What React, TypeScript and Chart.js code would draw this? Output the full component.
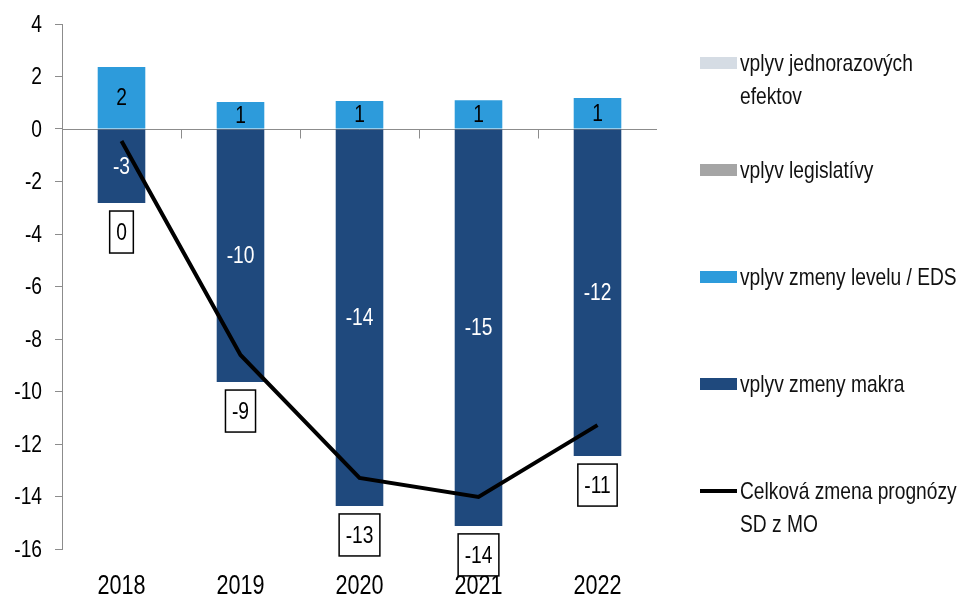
import React, { useEffect, useRef } from "react";
import { Chart, registerables } from "chart.js";

Chart.register(...registerables);

// ---- data ----
const categories = ["2018", "2019", "2020", "2021", "2022"];
const oneOffEffects = [0, 0, 0, 0, 0];
const legislation = [0, 0, 0, 0, 0];
const levelChange = [2.36, 1.03, 1.07, 1.1, 1.18];
const macroChange = [-2.82, -9.64, -14.36, -15.12, -12.46];
const totalChange = [-0.46, -8.61, -13.29, -14.02, -11.28];
const yMin = -16;
const yMax = 4;
const yStep = 2;

const seriesNames = [
  "vplyv jednorazových efektov",
  "vplyv legislatívy",
  "vplyv zmeny levelu / EDS",
  "vplyv zmeny makra",
  "Celková zmena prognózy SD z MO",
];
const legendLines = [
  ["vplyv jednorazových", "efektov"],
  ["vplyv legislatívy"],
  ["vplyv zmeny levelu / EDS"],
  ["vplyv zmeny makra"],
  ["Celková zmena prognózy", "SD z MO"],
];

// ---- styles ----
const FONT = "'Liberation Sans', Arial, sans-serif";
const SQUEEZE = 0.8; // emulate a condensed typeface
const C_ONEOFF = "#D5DCE4";
const C_LEGIS = "#A5A5A5";
const C_LEVEL = "#2D9BDB";
const C_MACRO = "#1F497D";
const C_LINE = "#000000";
const C_AXIS = "#8c8c8c";
const legendColors = [C_ONEOFF, C_LEGIS, C_LEVEL, C_MACRO, C_LINE];

const fmt = (v: number) => {
  const r = Math.round(v);
  return String(r === 0 ? 0 : r);
};

function text(ctx: any, t: string, x: number, y: number, size: number, color: string, align: string) {
  ctx.save();
  ctx.font = `${size}px ${FONT}`;
  ctx.textAlign = align;
  ctx.textBaseline = "middle";
  ctx.fillStyle = color;
  ctx.translate(x, y);
  ctx.scale(SQUEEZE, 1);
  ctx.fillText(t, 0, 0);
  ctx.restore();
}

function textWidth(ctx: any, t: string, size: number) {
  ctx.save();
  ctx.font = `${size}px ${FONT}`;
  const w = ctx.measureText(t).width * SQUEEZE;
  ctx.restore();
  return w;
}

const decorPlugin = {
  id: "decor",
  beforeDatasetsDraw(chart: any) {
    const { ctx, chartArea, scales } = chart;
    const x = scales.x;
    const y = scales.y;
    const y0 = Math.round(y.getPixelForValue(0)) + 0.5;
    ctx.save();
    ctx.strokeStyle = C_AXIS;
    ctx.lineWidth = 1;
    ctx.beginPath();
    ctx.moveTo(chartArea.left, y0);
    ctx.lineTo(chartArea.right, y0);
    for (let i = 1; i < categories.length; i++) {
      const px = Math.round((x.getPixelForValue(i - 1) + x.getPixelForValue(i)) / 2) + 0.5;
      ctx.moveTo(px, y0);
      ctx.lineTo(px, y0 + 9);
    }
    ctx.stroke();
    ctx.restore();
  },
  afterDatasetsDraw(chart: any) {
    const { ctx, chartArea, scales } = chart;
    // axis labels
    scales.y.ticks.forEach((tk: any) => {
      text(ctx, String(tk.value), chartArea.left - 20, scales.y.getPixelForValue(tk.value) + 1, 24, "#000", "right");
    });
    categories.forEach((c, i) => {
      text(ctx, c, scales.x.getPixelForValue(i), chartArea.bottom + 38, 27, "#000", "center");
    });
    // bar labels
    const levelMeta = chart.getDatasetMeta(2);
    const macroMeta = chart.getDatasetMeta(3);
    levelMeta.data.forEach((bar: any, i: number) => {
      const p = bar.getProps(["x", "y", "base"], true);
      text(ctx, fmt(levelChange[i]), p.x, (p.y + p.base) / 2 + 1, 24, "#000", "center");
    });
    macroMeta.data.forEach((bar: any, i: number) => {
      const p = bar.getProps(["x", "y", "base"], true);
      text(ctx, fmt(macroChange[i]), p.x, (p.y + p.base) / 2 + 1, 24, "#fff", "center");
    });
    // boxed totals
    totalChange.forEach((v, i) => {
      const p = macroMeta.data[i].getProps(["x", "y"], true);
      const cy = p.y + 29;
      const t = fmt(v);
      const w = textWidth(ctx, t, 24) + 13;
      const h = 42;
      ctx.save();
      ctx.fillStyle = "#fff";
      ctx.fillRect(p.x - w / 2, cy - h / 2, w, h);
      ctx.strokeStyle = "#000";
      ctx.lineWidth = 1.5;
      ctx.strokeRect(p.x - w / 2, cy - h / 2, w, h);
      ctx.restore();
      text(ctx, t, p.x, cy + 1, 24, "#000", "center");
    });
  },
  afterDraw(chart: any) {
    const { ctx, chartArea } = chart;
    const x0 = chartArea.right + 43;
    const first = chartArea.top + 39;
    const gap = 107;
    legendLines.forEach((lines, i) => {
      const cy = first + i * gap;
      ctx.save();
      ctx.fillStyle = legendColors[i];
      if (i === 4) ctx.fillRect(x0, cy - 2, 37, 4);
      else ctx.fillRect(x0, cy - 6, 37, 12);
      ctx.restore();
      lines.forEach((ln, j) => text(ctx, ln, x0 + 40, cy + 1 + j * 33, 24, "#111", "left"));
    });
  },
};

export default function App() {
  const ref = useRef<HTMLCanvasElement | null>(null);
  useEffect(() => {
    if (!ref.current) return;
    const barCommon = { stack: "bars", barPercentage: 0.4, categoryPercentage: 1, borderWidth: 0 };
    const chart = new Chart(ref.current, {
      type: "bar",
      data: {
        labels: categories,
        datasets: [
          { ...barCommon, label: seriesNames[0], data: oneOffEffects, backgroundColor: C_ONEOFF, order: 2 },
          { ...barCommon, label: seriesNames[1], data: legislation, backgroundColor: C_LEGIS, order: 2 },
          { ...barCommon, label: seriesNames[2], data: levelChange, backgroundColor: C_LEVEL, order: 2 },
          { ...barCommon, label: seriesNames[3], data: macroChange, backgroundColor: C_MACRO, order: 2 },
          {
            type: "line" as const,
            label: seriesNames[4],
            data: totalChange,
            stack: "line",
            borderColor: C_LINE,
            backgroundColor: C_LINE,
            borderWidth: 4,
            pointRadius: 0,
            tension: 0,
            fill: false,
            order: 1,
          } as any,
        ],
      },
      options: {
        animation: false,
        responsive: true,
        maintainAspectRatio: false,
        layout: { padding: { top: 24, right: 310, bottom: 0, left: 0 } },
        plugins: { legend: { display: false }, tooltip: { enabled: false } },
        scales: {
          x: {
            stacked: true,
            grid: { display: false, drawTicks: false },
            border: { display: false },
            ticks: { color: "rgba(0,0,0,0)", font: { family: FONT, size: 12 }, padding: 0 },
            afterFit: (s: any) => {
              s.height = 51;
            },
          },
          y: {
            stacked: true,
            min: yMin,
            max: yMax,
            afterFit: (s: any) => {
              s.width = 62;
            },
            ticks: { stepSize: yStep, color: "rgba(0,0,0,0)", font: { family: FONT, size: 12 }, padding: 13 },
            grid: { drawOnChartArea: false, drawTicks: true, tickLength: 7, tickColor: C_AXIS },
            border: { display: true, color: C_AXIS, width: 1 },
          },
        },
      },
      plugins: [decorPlugin],
    });
    return () => chart.destroy();
  }, []);
  return (
    <div style={{ position: "fixed", left: 0, top: 0, width: 967, height: 600, background: "#fff" }}>
      <canvas ref={ref} />
    </div>
  );
}
